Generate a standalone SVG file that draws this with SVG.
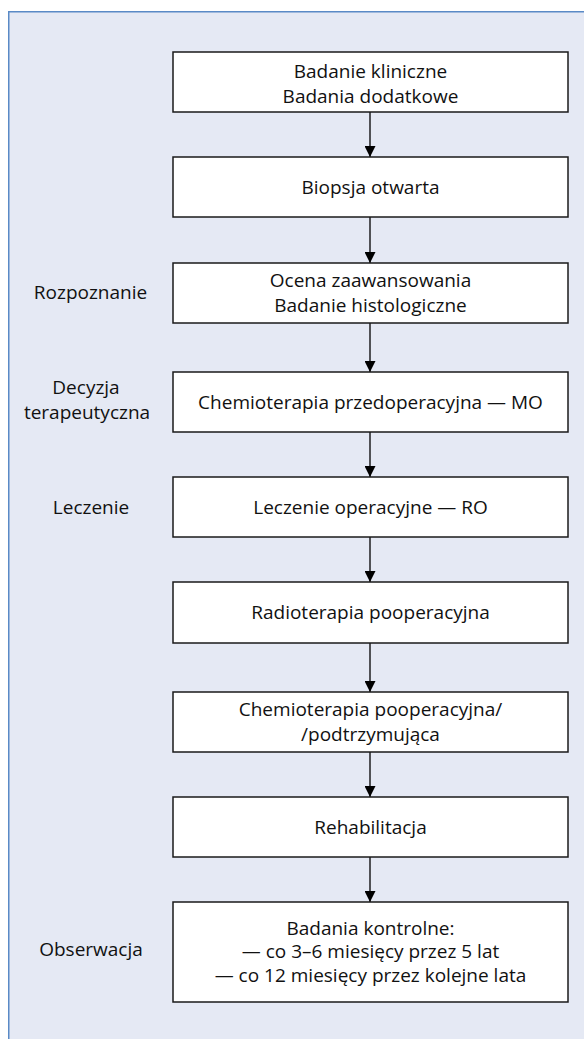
<svg xmlns="http://www.w3.org/2000/svg" width="584" height="1039" viewBox="0 0 584 1039">
<defs>
<style>
.bg{fill:#e5e9f4;}
.frame{fill:none;stroke:#5a8ac6;stroke-width:1.5;}
.box{fill:#ffffff;stroke:#1a1a1a;stroke-width:1.5;}
.t{font-family:"Open Sans","Noto Sans",sans-serif;font-size:19px;fill:#111111;text-anchor:middle;}
.edge{stroke:#000000;stroke-width:1.3;fill:none;marker-end:url(#arr);}
</style>
<marker id="arr" markerWidth="12" markerHeight="11" refX="11" refY="5.5" orient="auto" markerUnits="userSpaceOnUse">
<path d="M0,0 L11,5.5 L0,11 Z" fill="#000000"/>
</marker>
</defs>
<rect class="bg" x="8" y="11" width="576" height="1028"/>
<path class="frame" d="M8.75,1039 V11.75 H584"/>
<g id="labels">
<text class="t" x="90.5" y="299">Rozpoznanie</text>
<text class="t" x="86" y="394">Decyzja</text>
<text class="t" x="87" y="419">terapeutyczna</text>
<text class="t" x="91" y="514">Leczenie</text>
<text class="t" x="91" y="956">Obserwacja</text>
</g>
<g id="connectors">
<line class="edge" x1="370" y1="112" x2="370" y2="157"/>
<line class="edge" x1="370" y1="217" x2="370" y2="263"/>
<line class="edge" x1="370" y1="323" x2="370" y2="372"/>
<line class="edge" x1="370" y1="432" x2="370" y2="477"/>
<line class="edge" x1="370" y1="537" x2="370" y2="582"/>
<line class="edge" x1="370" y1="643" x2="370" y2="692"/>
<line class="edge" x1="370" y1="752" x2="370" y2="797"/>
<line class="edge" x1="370" y1="857" x2="370" y2="902"/>
</g>
<g id="n1"><rect class="box" x="173" y="52" width="395" height="60"/>
<text class="t" x="370.5" y="77.5">Badanie kliniczne</text>
<text class="t" x="370.5" y="102.5">Badania dodatkowe</text></g>
<g id="n2"><rect class="box" x="173" y="157" width="395" height="60"/>
<text class="t" x="370.5" y="193.5">Biopsja otwarta</text></g>
<g id="n3"><rect class="box" x="173" y="263" width="395" height="60"/>
<text class="t" x="370.5" y="286.5">Ocena zaawansowania</text>
<text class="t" x="370.5" y="311.5">Badanie histologiczne</text></g>
<g id="n4"><rect class="box" x="173" y="372" width="395" height="60"/>
<text class="t" x="370.5" y="408.5">Chemioterapia przedoperacyjna — MO</text></g>
<g id="n5"><rect class="box" x="173" y="477" width="395" height="60"/>
<text class="t" x="370.5" y="513.5">Leczenie operacyjne — RO</text></g>
<g id="n6"><rect class="box" x="173" y="582" width="395" height="61"/>
<text class="t" x="370.5" y="619">Radioterapia pooperacyjna</text></g>
<g id="n7"><rect class="box" x="173" y="692" width="395" height="60"/>
<text class="t" x="370.5" y="715.5">Chemioterapia pooperacyjna/</text>
<text class="t" x="370.5" y="740.5">/podtrzymująca</text></g>
<g id="n8"><rect class="box" x="173" y="797" width="395" height="60"/>
<text class="t" x="370.5" y="833.5">Rehabilitacja</text></g>
<g id="n9"><rect class="box" x="173" y="902" width="395" height="100"/>
<text class="t" x="370.5" y="934.5">Badania kontrolne:</text>
<text class="t" x="370.5" y="958">— co 3–6 miesięcy przez 5 lat</text>
<text class="t" x="370.5" y="981.5">— co 12 miesięcy przez kolejne lata</text></g>
</svg>
